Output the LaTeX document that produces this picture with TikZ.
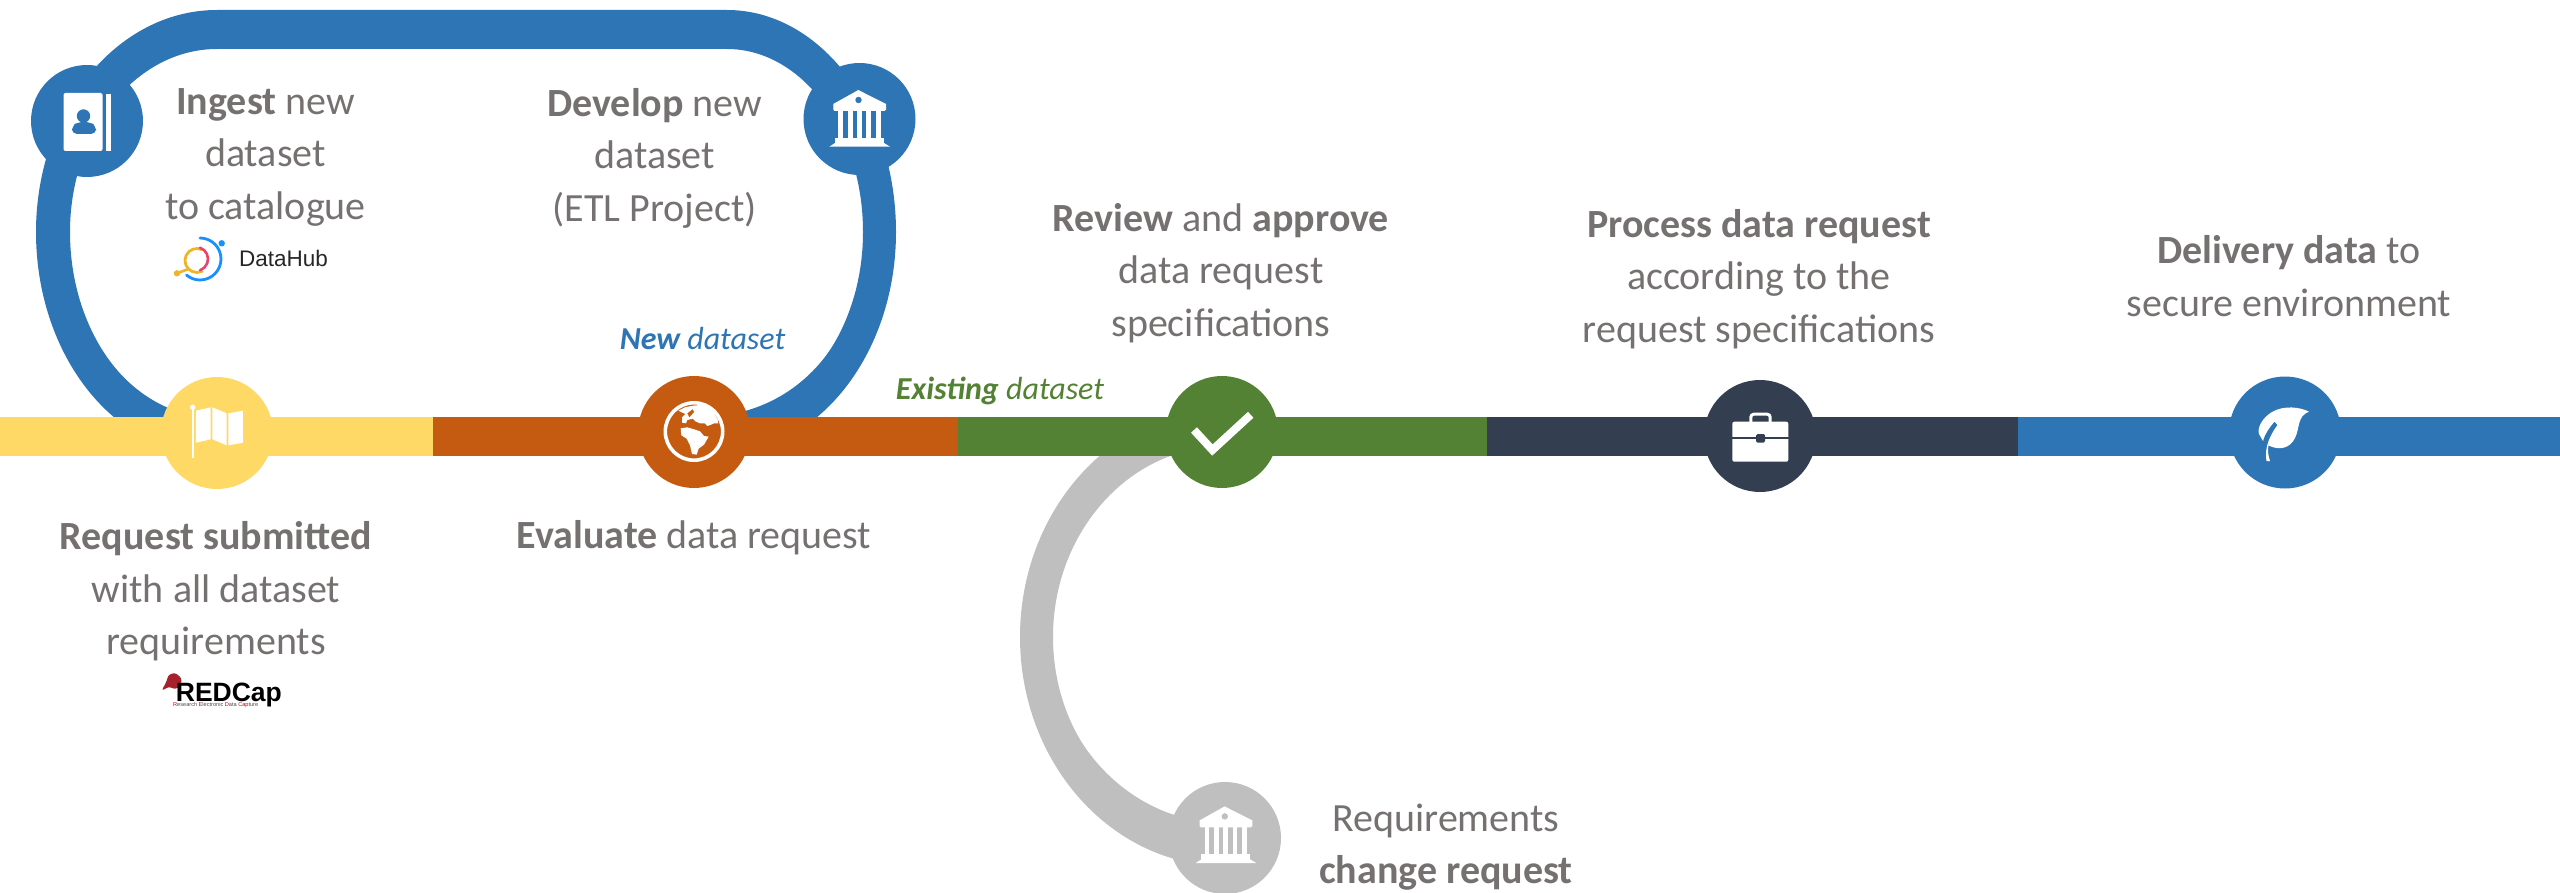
\documentclass[tikz,border=0pt]{standalone}
\usepackage{fontspec}
\usetikzlibrary{backgrounds}
\setmainfont{Carlito}
\newfontfamily\logofont{Liberation Sans}
\definecolor{cblue}{HTML}{2E75B6}
\definecolor{cyellow}{HTML}{FFD966}
\definecolor{corange}{HTML}{C55A11}
\definecolor{cgreen}{HTML}{548235}
\definecolor{cnavy}{HTML}{333F50}
\definecolor{cgray}{HTML}{BFBFBF}
\definecolor{ctext}{HTML}{767171}
\definecolor{capred}{HTML}{A5222D}
\definecolor{dhgold}{HTML}{F0B429}
\definecolor{dhblue}{HTML}{1890FF}
\definecolor{dhred}{HTML}{E8436E}
\tikzset{
 stop/.style={circle,fill=#1,inner sep=0pt,minimum size=112pt},
 band/.style={line width=39pt,draw=#1},
 loopline/.style={line width=30pt,draw=#1},
 steptext/.style={text=ctext,align=center,anchor=base,inner sep=0pt,font=\fontsize{40}{52.5}\selectfont},
 tagtext/.style={text=#1,anchor=base,inner sep=0pt,font=\fontsize{32}{36}\selectfont\itshape},
 bankicon/.pic={
  \fill[white] (-1.2,-29) -- (26.5,-15) -- (26.5,-9) -- (25.5,-9) -- (25.5,-8) -- (-25.5,-8) -- (-25.5,-9) -- (-26.2,-9) -- (-26.2,-15) -- cycle;
  \fill[#1] (-1,-19) circle (3.2pt);
  \foreach \x in {-21.2,-11.6,-2.4,6.8,16.2}{\fill[white] (\x,-8) rectangle (\x+4.8,19);}
  \fill[white] (-24.5,19) rectangle (24.5,24.3);
  \fill[white] (-24.5,24) -- (24.5,24) -- (30.5,27.7) -- (-30.2,27.7) -- cycle;
 }
}
\begin{document}
\begin{tikzpicture}[x=1pt,y=-1pt]
\useasboundingbox (0,0) rectangle (2560,893);
\coordinate (b0) at (0,436.5);
\coordinate (b1) at (433,436.5);
\coordinate (b2) at (958,436.5);
\coordinate (b3) at (1487,436.5);
\coordinate (b4) at (2018,436.5);
\coordinate (b5) at (2560,436.5);
\coordinate (L) at (53,232);
\coordinate (TL) at (217,29.5);
\coordinate (TR) at (727,29.5);
\coordinate (R) at (880,232);
\coordinate (G) at (1036,637);
% stops
\node[stop=cyellow] (req) at (217,433) {};
\node[stop=corange] (eval) at (694,432) {};
\node[stop=cgreen] (rev) at (1222,432) {};
\node[stop=cnavy] (proc) at (1760,436) {};
\node[stop=cblue] (del) at (2285,432.5) {};
\node[stop=cblue] (ing) at (87,121) {};
\node[stop=cblue] (dev) at (859.5,119) {};
\node[stop=cgray] (chg) at (1225,838) {};
% connectors behind the stops
\begin{scope}[on background layer]
\draw[loopline=cblue] (req.center) .. controls (126,433) and (53,344) .. (L)
   .. controls (53,120) and (127,29.5) .. (TL) -- (TR)
   .. controls (811,29.5) and (880,120) .. (R)
   .. controls (880,343) and (808,435) .. (eval.center);
% the loop's varying thickness
\fill[cblue] (36,232) .. controls (36,109.4) and (117,10) .. (217,10) -- (727,10)
   .. controls (820.3,10) and (896,109.4) .. (896,232)
   .. controls (896,354.6) and (817,454) .. (720,454) -- (720,417)
   .. controls (799,417) and (863,334) .. (863,232)
   .. controls (863,131) and (802,49) .. (727,49) -- (217,49)
   .. controls (136,49) and (70,131) .. (70,232)
   .. controls (70,334) and (133,417) .. (210,417) -- (210,454)
   .. controls (113.9,454) and (36,354.6) .. (36,232) -- cycle;
\draw[loopline=cgray] (rev.center) .. controls (1118,432) and (1036,526) .. (G)
   .. controls (1036,748) and (1121,838) .. (chg.center);
\fill[cgray] (1225,408) .. controls (1112,408) and (1020,510.5) .. (1020,637)
   .. controls (1020,763.5) and (1112,866) .. (1225,866) -- (1225,828)
   .. controls (1130,828) and (1053,742.5) .. (1053,637)
   .. controls (1053,531.5) and (1130,446) .. (1225,446) -- cycle;
\draw[band=cyellow] (b0) -- (b1);
\draw[band=corange] (b1) -- (b2);
\draw[band=cgreen] (b2) -- (b3);
\draw[band=cnavy] (b3) -- (b4);
\draw[band=cblue] (b4) -- (b5);
\end{scope}
% flag / map icon
\begin{scope}[scale=1/3]
\fill[white] (575,1222) rectangle (581,1373);
\fill[white] (578,1222) circle (8pt);
\fill[white] (588,1232) -- (632,1222) -- (632,1318) -- (588,1328) -- cycle;
\fill[white] (637,1222) -- (680,1240) -- (680,1336) -- (637,1318) -- cycle;
\fill[white] (685,1240) -- (729,1232) -- (729,1328) -- (685,1336) -- cycle;
\end{scope}
% contact book icon
\fill[white,rounded corners=2pt] (63.5,93) rectangle (102.5,151);
\fill[white] (106,94) rectangle (111,151);
\fill[cblue] (83.5,116) circle (6.7pt);
\fill[cblue,rounded corners=5pt] (72,134) -- (72,126) -- (78,122) -- (90,122) -- (96,126) -- (96,134) -- cycle;
% banks
\pic at (859.5,119) {bankicon=cblue};
\pic at (1225.8,835.4) {bankicon=cgray};
% globe
\draw[white,line width=3.6pt] (694,431.5) circle (28.7pt);
\begin{scope}[shift={(650,390)},scale=1/3]
\fill[white] (85,62) -- (105,52) -- (128,47) -- (150,45) -- (172,50) -- (190,66) -- (203,88) -- (205,100) -- (192,100) -- (183,104) -- (172,108) -- (164,100) -- (150,100) -- (136,94) -- (128,86) -- (112,90) -- (108,100) -- (96,98) -- (96,82) -- (106,72) -- cycle;
\fill[corange] (112,70) -- (128,58) -- (132,66) -- (118,82) -- cycle;
\fill[white] (92,115) -- (112,112) -- (132,118) -- (150,124) -- (162,138) -- (176,140) -- (162,164) -- (146,176) -- (140,194) -- (126,192) -- (120,166) -- (110,146) -- (94,136) -- cycle;
\end{scope}
% check
\draw[white,line width=8pt,miter limit=10] (1194,430) -- (1212.4,450) -- (1250.7,414.8);
% briefcase
\draw[white,line width=3pt,rounded corners=3pt] (1750.8,422) -- (1750.8,414.2) -- (1770.2,414.2) -- (1770.2,422);
\fill[white,rounded corners=2pt] (1732.3,421.7) rectangle (1788.3,461.7);
\fill[cnavy] (1732,436.7) rectangle (1789,439);
\fill[cnavy,rounded corners=1.5pt] (1756,434) rectangle (1765,442.7);
% leaf
\fill[white] (2309,411.7) .. controls (2300,407) and (2284,405) .. (2272,412)
  .. controls (2262,418) and (2257,428) .. (2259,434) -- (2263,441)
  .. controls (2265,433) and (2270,427) .. (2274.5,421.5) -- (2277.5,425)
  .. controls (2270,435) and (2264,448) .. (2266.5,461) -- (2270,461)
  .. controls (2268,455) and (2267.5,450) .. (2268.5,445.5)
  .. controls (2280,451) and (2290,448) .. (2295,438)
  .. controls (2300,428) and (2297,416) .. cycle;
% texts
\node[steptext] (tingest) at (265.5,219.5) {\textbf{Ingest} new\\dataset\\to catalogue};
\node[steptext] (tdev) at (654.7,221.5) {\textbf{Develop} new\\dataset\\(ETL Project)};
\node[steptext] (treview) at (1221,336.5) {\textbf{Review} and \textbf{approve}\\data request\\specifications};
\node[steptext] (tproc) at (1759,342.5) {\textbf{Process data request}\\according to the\\request specifications};
\node[steptext] (tdel) at (2289,316.5) {\textbf{Delivery data} to\\secure environment};
\node[steptext] (treq) at (216,654.5) {\textbf{Request submitted}\\with all dataset\\requirements};
\node[steptext] (teval) at (694,548.5) {\textbf{Evaluate} data request};
\node[steptext] (tchg) at (1446,883.5) {Requirements\\\textbf{change request}};
\node[tagtext=cblue] (tnew) at (702.5,349) {\textbf{New} dataset};
\node[tagtext=cgreen] (texist) at (1000,399) {\textbf{Existing} dataset};
% DataHub logo
\draw[dhgold,line width=2.8pt,line cap=round] (197,260.5) ++(65:12pt) arc[start angle=65,end angle=295,radius=12pt];
\draw[dhgold,line width=2.6pt] (188.5,269) -- (177,273.3);
\fill[dhgold] (177,273.3) circle (3.2pt);
\draw[dhblue,line width=2.8pt,line cap=round] (200,259) ++(90:21pt) arc[start angle=90,end angle=-130,radius=21pt];
\fill[dhblue] (221.7,243.3) circle (3.2pt);
\draw[dhred,line width=2.6pt,line cap=round] (196,259) ++(70:12pt) arc[start angle=70,end angle=-70,radius=12pt];
\node[anchor=base west,inner sep=0pt,text=black!85,font=\logofont\fontsize{22.5}{23}\selectfont] (dhub) at (239,267) {DataHub};
% REDCap logo
\fill[capred,rounded corners=2.5pt] (161.7,690.7) -- (169,686.7) -- (175,689.3) -- (181,686) -- (181.5,678) -- (175,672.7) -- (168.3,675) -- (166.7,681) -- cycle;
\node[anchor=base west,inner sep=0pt,text=black,font=\logofont\bfseries\fontsize{26.5}{26.5}\selectfont] (redcap) at (175.7,701) {REDCap};
\node[anchor=base west,inner sep=0pt,text=black!70,font=\logofont\fontsize{5.6}{6}\selectfont] (redsub) at (173,706.7) {\textcolor{red!75!black}{R}esearch \textcolor{red!75!black}{E}lectronic \textcolor{red!75!black}{D}ata \textcolor{red!75!black}{Cap}ture};
\end{tikzpicture}
\end{document}
